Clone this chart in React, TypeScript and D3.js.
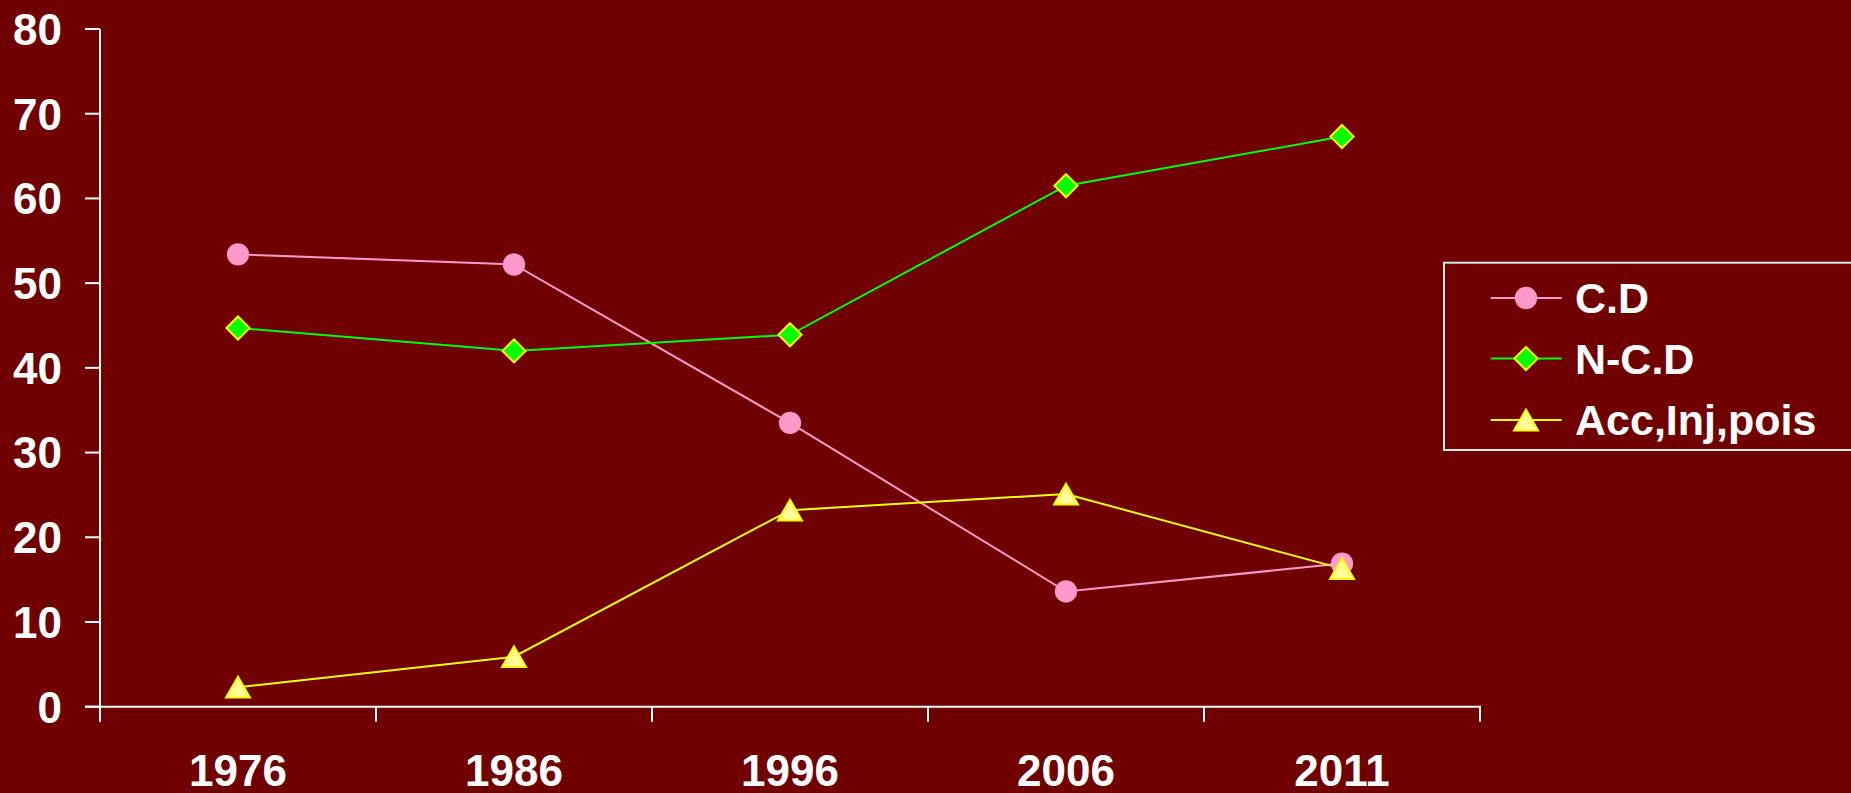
import React from "react";
import * as d3 from "d3";

const years = ["1976", "1986", "1996", "2006", "2011"];
const cdValues = [53.4, 52.2, 33.5, 13.6, 16.9];
const ncdValues = [44.7, 42.0, 43.9, 61.5, 67.3];
const accValues = [2.3, 5.9, 23.2, 25.1, 16.3];
const yTicks = [0, 10, 20, 30, 40, 50, 60, 70, 80];

const W = 1851;
const H = 793;
const BG = "#700000";
const FONT = "'Liberation Sans', Arial, sans-serif";

type Series = {
  name: string;
  values: number[];
  line: string;
  fill: string;
  stroke: string;
  symbol: d3.SymbolType;
  size: number;
};

const series: Series[] = [
  { name: "C.D", values: cdValues, line: "#ff99cc", fill: "#ff99cc", stroke: "#ff99cc", symbol: d3.symbolCircle, size: 390 },
  { name: "N-C.D", values: ncdValues, line: "#00ff00", fill: "#00ff00", stroke: "#ffff00", symbol: d3.symbolDiamond2, size: 340 },
  { name: "Acc,Inj,pois", values: accValues, line: "#ffff00", fill: "#ffff99", stroke: "#ffff00", symbol: d3.symbolTriangle, size: 250 },
];

export default function App() {
  const x = d3.scaleBand<string>().domain(years).range([100, 1480]);
  const y = d3.scaleLinear().domain([0, 80]).range([706.7, 29]);
  const cx = (yr: string) => (x(yr) ?? 0) + x.bandwidth() / 2;

  const lineGen = (vals: number[]) =>
    d3.line<number>().x((_, i) => cx(years[i])).y((v) => y(v))(vals) ?? "";

  const boundaries = years.map((yr) => x(yr) ?? 0).concat([x.range()[1]]);

  const legendX = 1444;
  const legendY = 262.7;
  const legendRows = [298, 358.5, 420];

  const marker = (s: Series, px: number, py: number, key: string) => {
    const path = d3.symbol().type(s.symbol).size(s.size)() ?? "";
    // centre the triangle's box (not its centroid) on the data point
    const dy = s.symbol === d3.symbolTriangle ? Math.sqrt(s.size / (Math.sqrt(3) * 3)) / 2 : 0;
    return (
      <path
        key={key}
        d={path}
        transform={`translate(${px},${py + dy})`}
        fill={s.fill}
        stroke={s.stroke}
        strokeWidth={s.symbol === d3.symbolCircle ? 0 : 2}
      />
    );
  };

  return (
    <svg
      width={W}
      height={H}
      style={{ position: "absolute", left: 0, top: 0, display: "block" }}
      fontFamily={FONT}
    >
      <rect x={0} y={0} width={W} height={H} fill={BG} />

      {/* y axis */}
      <line x1={100} x2={100} y1={y(80)} y2={y(0) + 15} stroke="#fff" strokeWidth={2} />
      {yTicks.map((t) => (
        <g key={t}>
          <line x1={85} x2={100} y1={y(t)} y2={y(t)} stroke="#fff" strokeWidth={2} />
          <text
            x={62}
            y={y(t)}
            dy="0.36em"
            textAnchor="end"
            fill="#fff"
            fontSize={44}
            fontWeight="bold"
          >
            {t}
          </text>
        </g>
      ))}

      {/* x axis */}
      <line x1={85} x2={1481} y1={y(0)} y2={y(0)} stroke="#fff" strokeWidth={2} />
      {boundaries.map((bx, i) => (
        <line key={i} x1={bx} x2={bx} y1={y(0)} y2={y(0) + 15} stroke="#fff" strokeWidth={2} />
      ))}
      {years.map((yr) => (
        <text
          key={yr}
          x={cx(yr)}
          y={786}
          textAnchor="middle"
          fill="#fff"
          fontSize={44}
          fontWeight="bold"
        >
          {yr}
        </text>
      ))}

      {/* series lines */}
      {series.map((s) => (
        <path key={s.name} d={lineGen(s.values)} fill="none" stroke={s.line} strokeWidth={2} />
      ))}
      {series.map((s) =>
        s.values.map((v, i) => marker(s, cx(years[i]), y(v), `${s.name}-${i}`))
      )}

      {/* legend */}
      <rect
        x={legendX}
        y={legendY}
        width={W - legendX + 10}
        height={450 - legendY}
        fill="none"
        stroke="#cfe8ea"
        strokeWidth={2}
      />
      {series.map((s, i) => (
        <g key={s.name}>
          <line x1={1490.7} x2={1561.7} y1={legendRows[i]} y2={legendRows[i]} stroke={s.line} strokeWidth={2} />
          {marker(s, 1526, legendRows[i], `leg-${i}`)}
          <text
            x={1575}
            y={legendRows[i]}
            dy="0.36em"
            fill="#fff"
            fontSize={43}
            fontWeight="bold"
          >
            {s.name}
          </text>
        </g>
      ))}
    </svg>
  );
}
